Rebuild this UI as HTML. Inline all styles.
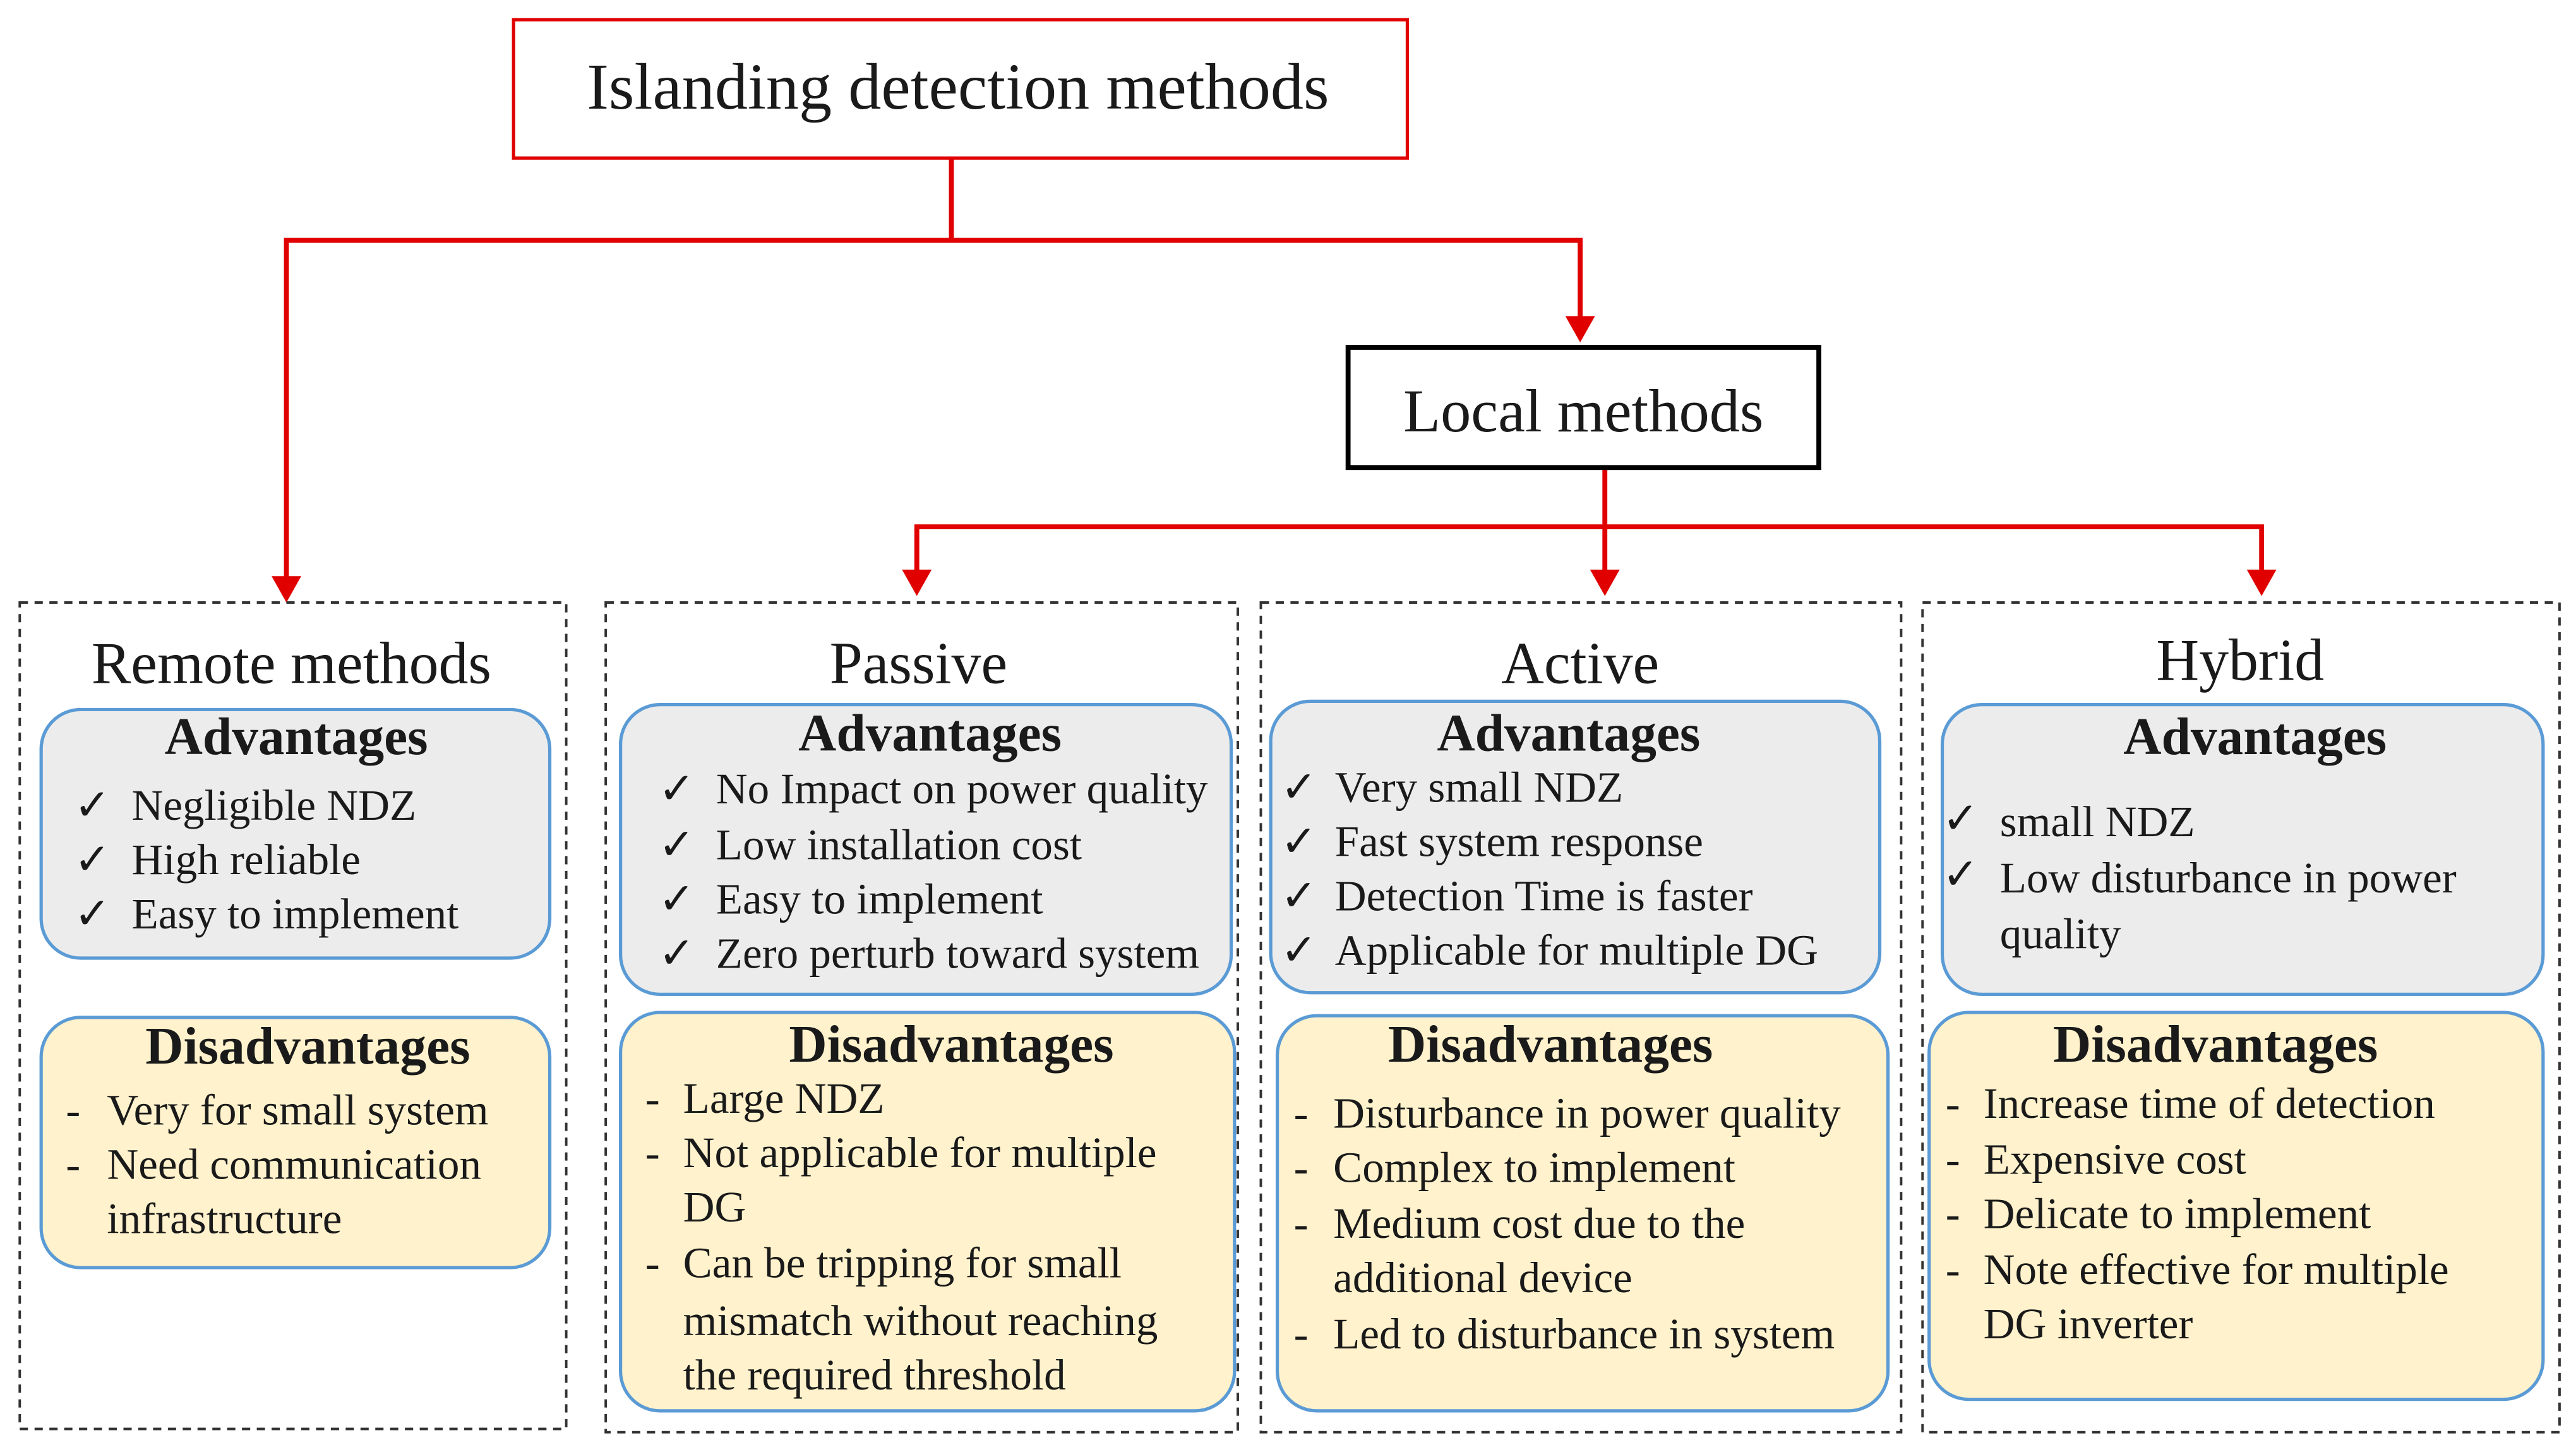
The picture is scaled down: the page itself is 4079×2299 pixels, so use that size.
<!DOCTYPE html>
<html><head><meta charset="utf-8"><style>
html,body{margin:0;padding:0;background:#fff;width:4079px;height:2299px;overflow:hidden}
svg{display:block}
text{font-family:"Liberation Serif","DejaVu Serif",serif;fill:#1a1a1a}
.h{font-weight:bold;font-size:32px;text-anchor:middle}
.t{font-size:26.5px}
.ti{font-size:36px;text-anchor:middle}
</style></head><body>
<svg width="4079" height="2299" viewBox="0 0 1565 882" preserveAspectRatio="none" xmlns="http://www.w3.org/2000/svg">
<g stroke="#e00000" stroke-width="3" fill="none">
<polyline points="578,96 578,146 174,146 174,352"/>
<polyline points="578,146 960,146 960,196"/>
<line x1="975" y1="284" x2="975" y2="350"/>
<polyline points="557,350 557,320 1374,320 1374,350"/>
</g>
<g fill="#e00000">
<path d="M165,350 L183,350 L174,366 z"/>
<path d="M951,192 L969,192 L960,208 z"/>
<path d="M548,346 L566,346 L557,362 z"/>
<path d="M966,346 L984,346 L975,362 z"/>
<path d="M1365,346 L1383,346 L1374,362 z"/>
</g>
<rect x="312" y="12" width="543" height="84" fill="#fff" stroke="#e00000" stroke-width="2"/>
<text x="582" y="66" class="ti" style="font-size:40px">Islanding detection methods</text>
<rect x="819" y="211" width="286" height="73" fill="#fff" stroke="#000" stroke-width="3"/>
<text x="962" y="262" class="ti" style="font-size:37px">Local methods</text>
<g fill="none" stroke="#333" stroke-width="1.5" stroke-dasharray="5,4">
<rect x="12" y="366" width="332" height="502"/>
<rect x="368" y="366" width="384" height="504"/>
<rect x="766" y="366" width="389" height="504"/>
<rect x="1168" y="366" width="387" height="504"/>
</g>
<text x="177" y="415" class="ti">Remote methods</text>
<text x="558" y="415" class="ti">Passive</text>
<text x="960" y="415" class="ti">Active</text>
<text x="1361" y="413" class="ti">Hybrid</text>
<g stroke="#5b9bd5" stroke-width="2">
<rect x="25" y="431" width="309" height="151" rx="24" fill="#ececec"/>
<rect x="377" y="428" width="371" height="176" rx="24" fill="#ececec"/>
<rect x="772" y="426" width="370" height="177" rx="24" fill="#ececec"/>
<rect x="1180" y="428" width="365" height="176" rx="24" fill="#ececec"/>
<rect x="25" y="618" width="309" height="152" rx="24" fill="#fff2cc"/>
<rect x="377" y="615" width="373" height="242" rx="24" fill="#fff2cc"/>
<rect x="776" y="617" width="371" height="240" rx="24" fill="#fff2cc"/>
<rect x="1172" y="615" width="373" height="235" rx="24" fill="#fff2cc"/>
</g>
<!-- Remote -->
<text x="180" y="458" class="h">Advantages</text>
<text x="45" y="498" class="t">✓</text><text x="80" y="498" class="t">Negligible NDZ</text>
<text x="45" y="531" class="t">✓</text><text x="80" y="531" class="t">High reliable</text>
<text x="45" y="564" class="t">✓</text><text x="80" y="564" class="t">Easy to implement</text>
<text x="187" y="646" class="h">Disadvantages</text>
<text x="40" y="683" class="t">-</text><text x="65" y="683" class="t">Very for small system</text>
<text x="40" y="716" class="t">-</text><text x="65" y="716" class="t">Need communication</text>
<text x="65" y="749" class="t">infrastructure</text>
<!-- Passive -->
<text x="565" y="456" class="h">Advantages</text>
<text x="400" y="488" class="t">✓</text><text x="435" y="488" class="t">No Impact on power quality</text>
<text x="400" y="522" class="t">✓</text><text x="435" y="522" class="t">Low installation cost</text>
<text x="400" y="555" class="t">✓</text><text x="435" y="555" class="t">Easy to implement</text>
<text x="400" y="588" class="t">✓</text><text x="435" y="588" class="t">Zero perturb toward system</text>
<text x="578" y="645" class="h">Disadvantages</text>
<text x="392" y="676" class="t">-</text><text x="415" y="676" class="t">Large NDZ</text>
<text x="392" y="709" class="t">-</text><text x="415" y="709" class="t">Not applicable for multiple</text>
<text x="415" y="742" class="t">DG</text>
<text x="392" y="776" class="t">-</text><text x="415" y="776" class="t">Can be tripping for small</text>
<text x="415" y="811" class="t">mismatch without reaching</text>
<text x="415" y="844" class="t">the required threshold</text>
<!-- Active -->
<text x="953" y="456" class="h">Advantages</text>
<text x="778" y="487" class="t">✓</text><text x="811" y="487" class="t">Very small NDZ</text>
<text x="778" y="520" class="t">✓</text><text x="811" y="520" class="t">Fast system response</text>
<text x="778" y="553" class="t">✓</text><text x="811" y="553" class="t">Detection Time is faster</text>
<text x="778" y="586" class="t">✓</text><text x="811" y="586" class="t">Applicable for multiple DG</text>
<text x="942" y="645" class="h">Disadvantages</text>
<text x="786" y="685" class="t">-</text><text x="810" y="685" class="t">Disturbance in power quality</text>
<text x="786" y="718" class="t">-</text><text x="810" y="718" class="t">Complex to implement</text>
<text x="786" y="752" class="t">-</text><text x="810" y="752" class="t">Medium cost due to the</text>
<text x="810" y="785" class="t">additional device</text>
<text x="786" y="819" class="t">-</text><text x="810" y="819" class="t">Led to disturbance in system</text>
<!-- Hybrid -->
<text x="1370" y="458" class="h">Advantages</text>
<text x="1180" y="506" class="t">✓</text><text x="1215" y="508" class="t">small NDZ</text>
<text x="1180" y="540" class="t">✓</text><text x="1215" y="542" class="t">Low disturbance in power</text>
<text x="1215" y="576" class="t">quality</text>
<text x="1346" y="645" class="h">Disadvantages</text>
<text x="1182" y="679" class="t">-</text><text x="1205" y="679" class="t">Increase time of detection</text>
<text x="1182" y="713" class="t">-</text><text x="1205" y="713" class="t">Expensive cost</text>
<text x="1182" y="746" class="t">-</text><text x="1205" y="746" class="t">Delicate to implement</text>
<text x="1182" y="780" class="t">-</text><text x="1205" y="780" class="t">Note effective for multiple</text>
<text x="1205" y="813" class="t">DG inverter</text>
</svg>
</body></html>
